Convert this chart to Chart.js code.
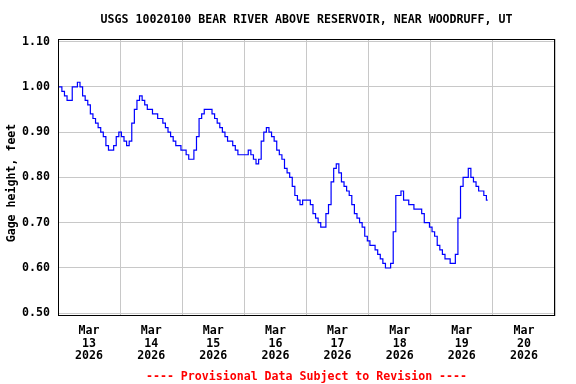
<!DOCTYPE html>
<html>
<head>
<meta charset="utf-8">
<script src="https://cdn.jsdelivr.net/npm/chart.js@4"></script>
<style>
html,body{margin:0;padding:0;background:#fff;}
#wrap{width:576px;height:384px;position:relative;}
</style>
</head>
<body>
<div id="wrap"><canvas id="chart"></canvas></div>
<script>
const titleText = 'USGS 10020100 BEAR RIVER ABOVE RESERVOIR, NEAR WOODRUFF, UT';
const yTitle = 'Gage height, feet';
const footText = '---- Provisional Data Subject to Revision ----';

// x labels, one per day (drawn at noon)
const dayMonth = ['Mar','Mar','Mar','Mar','Mar','Mar','Mar','Mar'];
const dayNum = ['13','14','15','16','17','18','19','20'];
const dayYear = ['2026','2026','2026','2026','2026','2026','2026','2026'];
const yTicks = [0.5, 0.6, 0.7, 0.8, 0.9, 1.0, 1.1];

// gage height (feet), hourly readings starting at 00:00 each day
const mar13 = [1.00,1.00,0.99,0.98,0.97,0.97,1.00,1.00,1.01,1.00,0.98,0.97,0.96,0.94,0.93,0.92,0.91,0.90,0.89,0.87,0.86,0.86,0.87,0.89];
const mar14 = [0.90,0.89,0.88,0.87,0.88,0.92,0.95,0.97,0.98,0.97,0.96,0.95,0.95,0.94,0.94,0.93,0.93,0.92,0.91,0.90,0.89,0.88,0.87,0.87];
const mar15 = [0.86,0.86,0.85,0.84,0.84,0.86,0.89,0.93,0.94,0.95,0.95,0.95,0.94,0.93,0.92,0.91,0.90,0.89,0.88,0.88,0.87,0.86,0.85,0.85];
const mar16 = [0.85,0.85,0.86,0.85,0.84,0.83,0.84,0.88,0.90,0.91,0.90,0.89,0.88,0.86,0.85,0.84,0.82,0.81,0.80,0.78,0.76,0.75,0.74,0.75];
const mar17 = [0.75,0.75,0.74,0.72,0.71,0.70,0.69,0.69,0.72,0.74,0.79,0.82,0.83,0.81,0.79,0.78,0.77,0.76,0.74,0.72,0.71,0.70,0.69,0.67];
const mar18 = [0.66,0.65,0.65,0.64,0.63,0.62,0.61,0.60,0.60,0.61,0.68,0.76,0.76,0.77,0.75,0.75,0.74,0.74,0.73,0.73,0.73,0.72,0.70,0.70];
const mar19 = [0.69,0.68,0.67,0.65,0.64,0.63,0.62,0.62,0.61,0.61,0.63,0.71,0.78,0.80,0.80,0.82,0.80,0.79,0.78,0.77,0.77,0.76,0.75];

const gage = [].concat(mar13, mar14, mar15, mar16, mar17, mar18, mar19);
const points = gage.map((v, i) => ({ x: i, y: v })); // x = hours since Mar 13 00:00

const monoFont = { family: '"DejaVu Sans Mono", monospace', size: 11.6, weight: 'bold' };
const fontStr = 'bold 11.6px "DejaVu Sans Mono", monospace';

// frame round the plot + title, y title and footer
const frame = {
  id: 'frame',
  afterDraw(chart) {
    const { ctx, chartArea: a } = chart;
    ctx.save();
    ctx.strokeStyle = '#000';
    ctx.lineWidth = 1;
    ctx.strokeRect(a.left + 0.5, a.top + 0.5, a.width - 1, a.height - 1);
    ctx.font = fontStr;
    ctx.textAlign = 'center';
    ctx.textBaseline = 'middle';
    ctx.fillStyle = '#000';
    ctx.fillText(titleText, (a.left + a.right) / 2, 20);
    ctx.fillStyle = '#f00';
    ctx.fillText(footText, (a.left + a.right) / 2, 377);
    ctx.fillStyle = '#000';
    ctx.translate(12, 183);
    ctx.rotate(-Math.PI / 2);
    ctx.fillText(yTitle, 0, 0);
    ctx.restore();
  }
};

new Chart(document.getElementById('chart'), {
  type: 'line',
  data: {
    datasets: [{
      data: points,
      borderColor: '#0000ff',
      borderWidth: 1.2,
      pointRadius: 0,
      stepped: 'middle',
      fill: false
    }]
  },
  options: {
    responsive: true,
    maintainAspectRatio: false,
    animation: false,
    devicePixelRatio: 1,
    layout: { padding: { top: 39, right: 21, left: 0, bottom: 0 } },
    plugins: { legend: { display: false }, tooltip: { enabled: false } },
    scales: {
      x: {
        type: 'linear',
        min: 0,
        max: 192,
        afterBuildTicks: s => { s.ticks = []; for (let h = 0; h <= 192; h += 12) s.ticks.push({ value: h }); },
        afterFit: s => { s.height = 68; },
        border: { display: false },
        grid: {
          drawTicks: false,
          lineWidth: 1,
          color: c => (c.tick && c.tick.value % 24 === 0) ? '#c8c8c8' : 'rgba(0,0,0,0)'
        },
        ticks: {
          autoSkip: false,
          maxRotation: 0,
          padding: 8,
          color: '#000',
          font: Object.assign({ lineHeight: 1.12 }, monoFont),
          callback: v => {
            if (v % 24 !== 12) return '';
            const i = (v - 12) / 24;
            return [dayMonth[i], dayNum[i], dayYear[i]];
          }
        }
      },
      y: {
        min: 0.494,
        max: 1.1055,
        afterBuildTicks: s => { s.ticks = yTicks.map(v => ({ value: v })); },
        afterFit: s => { s.width = 58; },
        border: { display: false },
        grid: { drawTicks: false, color: '#c8c8c8', lineWidth: 1 },
        ticks: {
          padding: 8,
          color: '#000',
          font: monoFont,
          callback: v => v.toFixed(2)
        }
      }
    }
  },
  plugins: [frame]
});
</script>
</body>
</html>
